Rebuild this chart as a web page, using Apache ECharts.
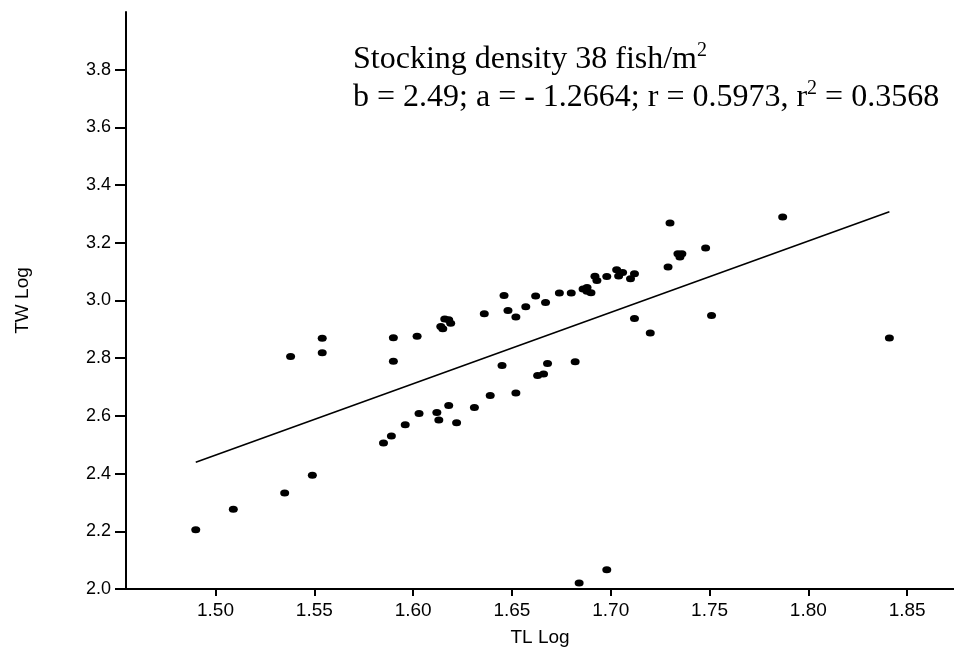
<!DOCTYPE html>
<html>
<head>
<meta charset="utf-8">
<script src="https://cdn.jsdelivr.net/npm/echarts@6/dist/echarts.min.js"></script>
<style>
  html, body { margin: 0; padding: 0; background: #fff; }
  #chart { width: 954px; height: 654px; }
</style>
</head>
<body>
<div id="chart"></div>
<script>
// TL Log (x) / TW Log (y)
var tlLog = [1.490, 1.509, 1.535, 1.538, 1.549, 1.554, 1.554, 1.585, 1.589, 1.590,
  1.590, 1.596, 1.602, 1.603, 1.612, 1.613, 1.614, 1.615, 1.616, 1.618,
  1.619, 1.618, 1.622, 1.631, 1.636, 1.639, 1.645, 1.646, 1.648, 1.652,
  1.652, 1.657, 1.662, 1.663, 1.666, 1.667, 1.668, 1.674, 1.680, 1.682,
  1.684, 1.686, 1.688, 1.688, 1.690, 1.692, 1.693, 1.698, 1.698, 1.703,
  1.704, 1.706, 1.710, 1.712, 1.712, 1.720, 1.729, 1.730, 1.734, 1.735,
  1.736, 1.748, 1.751, 1.787, 1.841]
var twLog = [2.205, 2.276, 2.333, 2.806, 2.394, 2.869, 2.819, 2.506, 2.530, 2.871,
  2.789, 2.569, 2.876, 2.608, 2.612, 2.586, 2.910, 2.902, 2.936, 2.933,
  2.921, 2.636, 2.576, 2.629, 2.954, 2.671, 2.775, 3.017, 2.965, 2.943,
  2.679, 2.978, 3.016, 2.740, 2.745, 2.993, 2.782, 3.026, 3.026, 2.788,
  2.021, 3.040, 3.045, 3.032, 3.027, 3.084, 3.069, 3.083, 2.067, 3.107,
  3.085, 3.097, 3.075, 3.093, 2.938, 2.887, 3.116, 3.269, 3.162, 3.151,
  3.162, 3.182, 2.948, 3.289, 2.870]
// regression line end points
var fitX = [1.490, 1.841]
var fitY = [2.439, 3.308]
var xTicks = [1.50, 1.55, 1.60, 1.65, 1.70, 1.75, 1.80, 1.85]
var yTicks = [2.0, 2.2, 2.4, 2.6, 2.8, 3.0, 3.2, 3.4, 3.6, 3.8]

var points = tlLog.map(function(x, i) { return [x, twLog[i]] })
var fitLine = fitX.map(function(x, i) { return [x, fitY[i]] })

var sans = "'Liberation Sans', Arial, sans-serif"
var serif = "'Liberation Serif', 'Times New Roman', serif"

var chart = echarts.init(document.getElementById("chart"))
chart.setOption({
  animation: false,
  title: {
    left: 348,
    top: 36,
    text: "{t|Stocking density 38 fish/m}{s|2}\n{t|b = 2.49; a = - 1.2664; r = 0.5973, r}{s|2}{t| = 0.3568}",
    textStyle: {
      fontWeight: "normal",
      rich: {
        t: { fontFamily: serif, fontSize: 32, fontWeight: "normal", color: "#000", lineHeight: 38 },
        s: { fontFamily: serif, fontSize: 20, fontWeight: "normal", color: "#000", verticalAlign: "top", lineHeight: 22 }
      }
    }
  },
  grid: { left: 126, right: 0, top: 12, bottom: 65 },
  xAxis: {
    type: "value",
    min: 1.4547,
    max: 1.8737,
    name: "TL Log",
    nameLocation: "middle",
    nameGap: 39,
    nameTextStyle: { fontFamily: sans, fontSize: 19, color: "#000" },
    axisLine: { onZero: false, lineStyle: { color: "#000", width: 2 } },
    axisTick: { show: true, customValues: xTicks, length: 7, lineStyle: { color: "#000", width: 2 } },
    axisLabel: {
      customValues: xTicks,
      margin: 12,
      fontFamily: sans, fontSize: 19, color: "#000",
      formatter: function(v) { return v.toFixed(2) }
    },
    splitLine: { show: false }
  },
  yAxis: {
    type: "value",
    min: 2.0,
    max: 4.0,
    name: "TW Log",
    nameLocation: "middle",
    nameGap: 94,
    nameRotate: 90,
    nameTextStyle: { fontFamily: sans, fontSize: 19, color: "#000" },
    axisLine: { show: true, onZero: false, lineStyle: { color: "#000", width: 2 } },
    axisTick: { show: true, customValues: yTicks, length: 11, lineStyle: { color: "#000", width: 2 } },
    axisLabel: {
      customValues: yTicks,
      margin: 15,
      fontFamily: sans, fontSize: 18, color: "#000",
      formatter: function(v) { return v.toFixed(1) }
    },
    splitLine: { show: false }
  },
  series: [
    {
      type: "line",
      data: fitLine,
      symbol: "none",
      lineStyle: { color: "#000", width: 1.6 },
      z: 2
    },
    {
      type: "scatter",
      data: points,
      symbol: "circle",
      symbolSize: [9, 7],
      itemStyle: { color: "#000", opacity: 1 },
      z: 3
    }
  ]
})
</script>
</body>
</html>
